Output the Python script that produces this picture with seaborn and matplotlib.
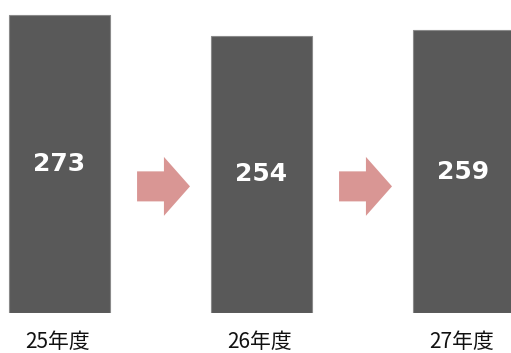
import matplotlib
matplotlib.use("Agg")
import matplotlib.pyplot as plt
from matplotlib.patches import Polygon
import seaborn as sns
import pandas as pd

categories = ["25年度", "26年度", "27年度"]
values = [273, 254, 259]

bar_color = "#595959"
arrow_color = "#D99694"

sns.set_theme(style="white")
plt.rcParams['font.family'] = ['Noto Sans CJK JP', 'DejaVu Sans']

df = pd.DataFrame({"cat": categories, "val": values})

fig = plt.figure(figsize=(5.11, 3.53), dpi=100)
ax = fig.add_axes([0, 40 / 353, 1, 313 / 353])
sns.barplot(data=df, x="cat", y="val", color=bar_color, saturation=1,
            width=0.5, edgecolor="#8a8a8a", linewidth=0.8, ax=ax)

ax.set_xlim(-59.5 / 202, (511 - 59.5) / 202)
ax.set_ylim(0, 313 / 1.0916)
for s in ax.spines.values():
    s.set_visible(False)
ax.set_xlabel("")
ax.set_ylabel("")
ax.set_yticks([])
ax.set_xticks([])

for i, v in enumerate(values):
    ax.text(i, v / 2, str(v), ha="center", va="center", color="white",
            fontsize=18, fontweight="bold", family="DejaVu Sans")
    ax.text(i - 0.01, -26.5, categories[i], ha="center", va="center", color="#111111",
            fontsize=15, family=["Noto Sans CJK JP", "DejaVu Sans"],
            clip_on=False)

# arrows between bars
alen, hlen = 0.262, 0.129
shaft_h, head_h, yc = 27.5, 54.0, 116.0
for i in range(len(values) - 1):
    xc = i + 0.515
    x0 = xc - alen / 2
    x1 = xc + alen / 2
    xh = x1 - hlen
    pts = [(x0, yc - shaft_h / 2), (xh, yc - shaft_h / 2), (xh, yc - head_h / 2),
           (x1, yc), (xh, yc + head_h / 2), (xh, yc + shaft_h / 2),
           (x0, yc + shaft_h / 2)]
    ax.add_patch(Polygon(pts, closed=True, facecolor=arrow_color,
                         edgecolor="none", zorder=3))

fig.savefig("out.png", dpi=100)
